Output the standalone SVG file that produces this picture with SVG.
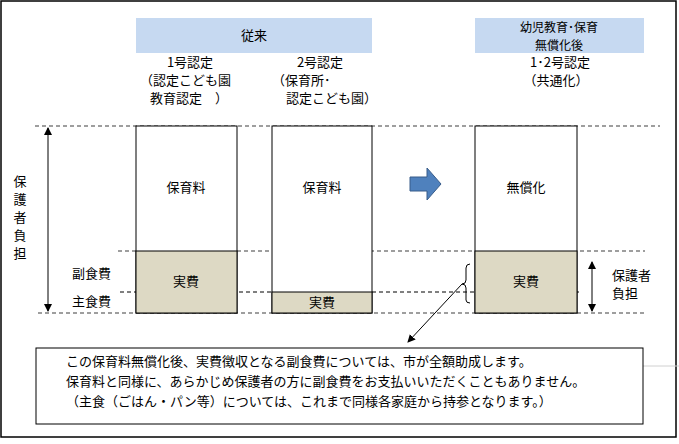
<svg xmlns="http://www.w3.org/2000/svg" width="679" height="444" viewBox="0 0 679 444">
<style>
text{font-family:"Noto Sans CJK JP","Noto Sans CJK SC",sans-serif;font-size:13px;fill:#000}
.c{text-anchor:middle}
.sm{font-size:12px}
.hdr{fill:#c6d9f1}
.col{fill:#fff;stroke:#000;stroke-width:1}
.beige{fill:#ddd9c4;stroke:#000;stroke-width:1}
.gd{stroke:#7f7f7f;stroke-width:1.3;stroke-dasharray:4 3;fill:none}
.bd{stroke:#000;stroke-width:1;stroke-dasharray:4 3;fill:none}
.ln{stroke:#000;stroke-width:1;fill:none}
</style>
<defs>
<marker id="ah" markerWidth="8" markerHeight="8" refX="7" refY="4" orient="auto-start-reverse" markerUnits="userSpaceOnUse"><path d="M0,0 L8,4 L0,8 Z" fill="#000"/></marker>
</defs>
<rect x="1" y="1" width="675" height="436" fill="#fff" stroke="#000" stroke-width="1.5"/>
<line x1="643" y1="366" x2="679" y2="366" stroke="#d0d0d0"/>
<g id="connectors">
<line class="gd" x1="35" y1="126" x2="660" y2="126"/>
<line class="gd" x1="118" y1="251" x2="645" y2="251"/>
<line class="bd" x1="120" y1="292" x2="580" y2="292"/>
<line class="gd" x1="38" y1="313" x2="645" y2="313"/>
<line class="ln" x1="48" y1="128" x2="48" y2="311" marker-start="url(#ah)" marker-end="url(#ah)"/>
<line class="ln" x1="592" y1="262" x2="592" y2="311" marker-start="url(#ah)" marker-end="url(#ah)"/>
<path class="ln" d="M470,264 Q466,264 466,268 V280 Q466,284 462,284 Q466,284 466,288 V300 Q466,303 470,303"/>
<line class="ln" x1="462" y1="284" x2="408" y2="342" marker-end="url(#ah)"/>
</g>
<g id="header1"><rect class="hdr" x="136" y="18" width="236" height="35"/><text class="c" x="254" y="40">従来</text></g>
<g id="header2"><rect class="hdr" x="475" y="18" width="169" height="35"/><text class="c sm" x="559" y="32">幼児教育･保育</text><text class="c sm" x="559" y="50">無償化後</text></g>
<g id="label1"><text class="c" x="190" y="67">1号認定</text><text x="140" y="85">（認定こども園</text><text x="150" y="103">教育認定　）</text></g>
<g id="label2"><text class="c" x="320" y="67">2号認定</text><text x="272" y="85">（保育所･</text><text x="286" y="103">認定こども園）</text></g>
<g id="label3"><text class="c" x="560" y="67">1･2号認定</text><text class="c" x="556" y="85">（共通化）</text></g>
<g id="col1"><rect class="col" x="136" y="126" width="101" height="187"/><rect class="beige" x="136" y="251" width="101" height="62"/><text class="c" x="186" y="192">保育料</text><text class="c" x="186" y="286">実費</text></g>
<g id="col2"><rect class="col" x="272" y="126" width="100" height="187"/><rect class="beige" x="272" y="292" width="100" height="21"/><text class="c" x="322" y="307">実費</text><text class="c" x="322" y="192">保育料</text></g>
<g id="col3"><rect class="col" x="475" y="126" width="102" height="187"/><rect class="beige" x="475" y="251" width="102" height="62"/><text class="c" x="526" y="192">無償化</text><text class="c" x="526" y="286">実費</text></g>
<g id="arrow"><path d="M410,177 H427 V168 L441,184 L427,200 V191 H410 Z" fill="#4f81bd" stroke="#385d8a"/></g>
<g id="leftlabel"><text class="c" x="20" y="186">保</text><text class="c" x="20" y="204">護</text><text class="c" x="20" y="222">者</text><text class="c" x="20" y="240">負</text><text class="c" x="20" y="258">担</text></g>
<g id="rowlabels"><text x="72" y="278">副食費</text><text x="72" y="306">主食費</text></g>
<g id="rightlabel"><text x="612" y="280">保護者</text><text x="612" y="298">負担</text></g>
<g id="note"><rect x="36" y="348" width="607" height="76" fill="#fff" stroke="#000"/>
<text x="66" y="366">この保育料無償化後、実費徴収となる副食費については、市が全額助成します。</text>
<text x="66" y="386">保育料と同様に、あらかじめ保護者の方に副食費をお支払いいただくこともありません。</text>
<text x="66" y="406">（主食（ごはん・パン等）については、これまで同様各家庭から持参となります。）</text></g>
</svg>
